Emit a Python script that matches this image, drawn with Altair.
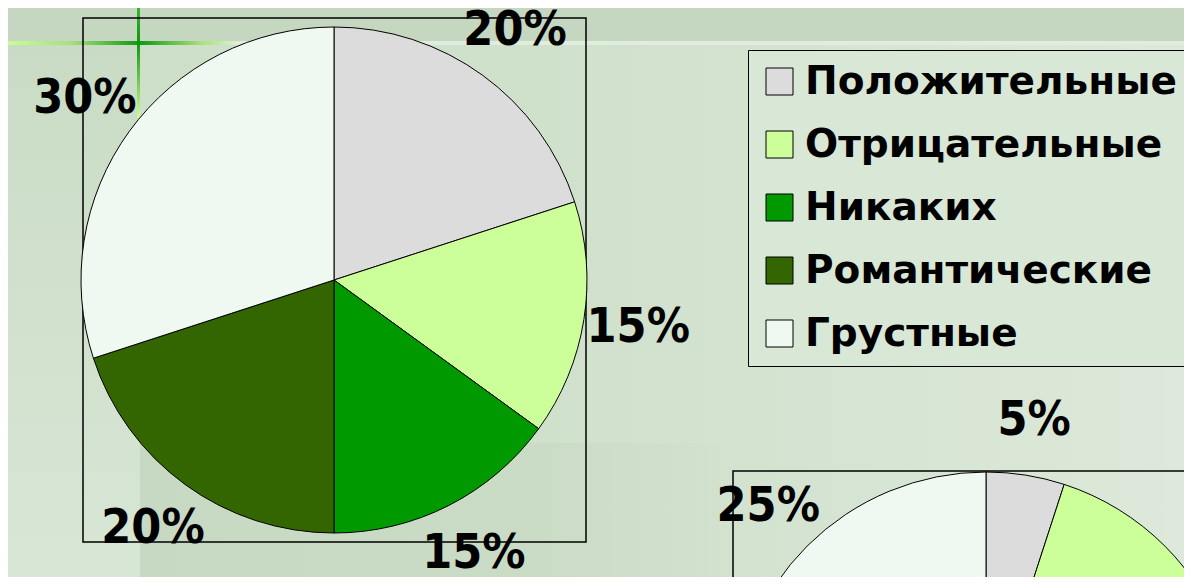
import altair as alt
import pandas as pd

# ---- data ----
categories = ["Положительные", "Отрицательные", "Никаких", "Романтические", "Грустные"]
slice_colors = ["#dcdcdc", "#ccff99", "#009900", "#336600", "#f0f9f1"]
pie1_values = [20, 15, 15, 20, 30]
pie1_labels = ["20%", "15%", "15%", "20%", "30%"]
pie2_values = [5, 30, 20, 20, 25]
pie2_labels = ["5%", "30%", "20%", "20%", "25%"]

df1 = pd.DataFrame({"cat": categories, "val": pie1_values, "label": pie1_labels, "idx": list(range(5))})
df2 = pd.DataFrame({"cat": categories, "val": pie2_values, "label": pie2_labels, "idx": list(range(5))})

W, H = 1176, 569
OFF = 8  # page margin: page coords -> chart coords
dummy = alt.Data(values=[{"a": 1}])

LABEL_FONT = "DejaVu Sans Condensed, DejaVu Sans"


def P(v):
    return v - OFF


def rect(x, x2, y, y2, **mk):
    return alt.Chart(dummy).mark_rect(**mk).encode(
        x=alt.value(P(x)), x2=alt.value(P(x2)), y=alt.value(P(y)), y2=alt.value(P(y2))
    )


def hgrad(stops):
    return alt.LinearGradient(
        gradient="linear", x1=0, x2=1, y1=0, y2=0,
        stops=[alt.GradientStop(color=c, offset=o) for o, c in stops],
    )


def vgrad(stops):
    return alt.LinearGradient(
        gradient="linear", x1=0, x2=0, y1=0, y2=1,
        stops=[alt.GradientStop(color=c, offset=o) for o, c in stops],
    )


color = alt.Color(
    "cat:N",
    scale=alt.Scale(domain=categories, range=slice_colors),
    legend=alt.Legend(
        title=None, orient="none", legendX=P(748), legendY=P(50),
        padding=12, rowPadding=23, symbolType="square", symbolSize=729,
        symbolStrokeColor="black", symbolStrokeWidth=1, symbolOpacity=1,
        labelFont="DejaVu Sans", labelFontSize=39, labelFontWeight="bold",
        labelColor="black", labelLimit=800, labelOffset=6,
        strokeColor="black", fillColor="#d9e7d6",
    ),
)


def pie(df, cx, cy, r, lr):
    base = alt.Chart(df).encode(
        theta=alt.Theta("val:Q", stack=True),
        order=alt.Order("idx:Q"),
        x=alt.value(P(cx)), y=alt.value(P(cy)),
    )
    arcs = base.mark_arc(radius=r, stroke="black", strokeWidth=1).encode(color=color)
    text = base.mark_text(
        radius=lr, font=LABEL_FONT, fontSize=48, fontWeight="bold", color="black",
        align="center", baseline="middle",
    ).encode(text="label:N")
    return arcs, text


# ---- background decoration ----
bg_main = rect(0, 1200, 44, 600, fill=hgrad([(0, "#cddec9"), (0.45, "#cfe0cb"), (1, "#dde9da")]))
bg_left = rect(0, 140, 44, 600, fill=vgrad([(0, "#c9dbc5"), (1, "#d9e7d6")]))
bg_low = rect(140, 720, 443, 600, fill=hgrad([(0, "#c7d9c3"), (0.7, "#cadbc6"), (1, "#d2e1ce")]))
bg_top = rect(0, 1200, 0, 42, fill="#c5d7c0")
pale_line = rect(0, 1200, 41, 45, fill="#e2ecde")
cross_h = rect(0, 236, 41, 45, fill=hgrad([(0, "#ccff99"), (0.3, "#a8e07c"), (0.59, "#119911"), (0.85, "#a8e07c"), (1, "#dcefd0")]))
cross_v = rect(137, 140, 0, 118, fill=vgrad([(0, "#44bb33"), (0.36, "#0a990a"), (0.75, "#88d060"), (1, "#ccff99")]))

# ---- frames ----
frame1 = rect(83, 586, 18, 542, fillOpacity=0, stroke="black", strokeWidth=1.5)
frame2 = rect(733, 1260, 471, 1000, fillOpacity=0, stroke="black", strokeWidth=1.5)

arcs1, text1 = pie(df1, 334, 280, 253, 308)
arcs2, text2 = pie(df2, 986, 725, 253, 308)

chart = alt.layer(
    bg_main, bg_left, bg_low, bg_top, pale_line, cross_h, cross_v,
    frame1, frame2, arcs1, arcs2, text1, text2,
).properties(
    width=W, height=H, background="#d3e2cf", padding=0,
    autosize=alt.AutoSizeParams(type="none"),
).configure_view(strokeWidth=0)

chart.save("out.html", embed_options={"renderer": "svg", "actions": False})
